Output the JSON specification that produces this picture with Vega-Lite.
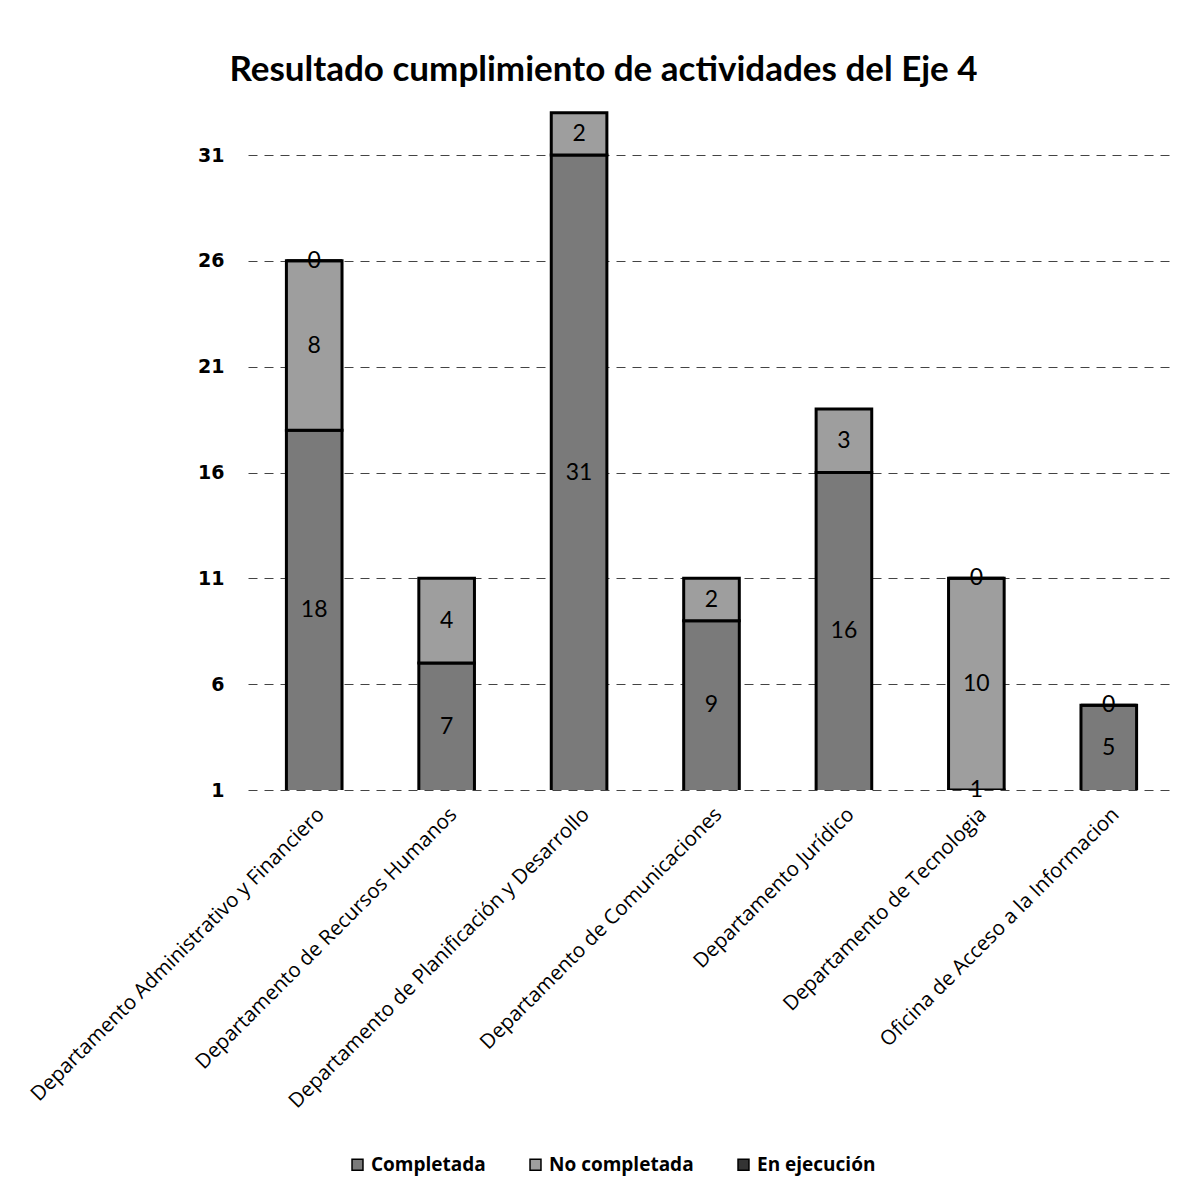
{
  "$schema": "https://vega.github.io/schema/vega-lite/v6.json",
  "autosize": {"type": "none"},
  "width": 927,
  "height": 690,
  "padding": {"left": 248, "top": 100, "right": 19, "bottom": 411},
  "background": "white",
  "title": {
    "text": "Resultado cumplimiento de actividades del Eje 4",
    "font": "Lato",
    "fontSize": 35,
    "fontWeight": "bold",
    "color": "black",
    "anchor": "middle",
    "dx": -108,
    "offset": 12
  },
  "data": {
    "values": [
      {"dept": "Departamento Administrativo y Financiero", "estado": "Completada", "valor": 18},
      {"dept": "Departamento Administrativo y Financiero", "estado": "No completada", "valor": 8},
      {"dept": "Departamento Administrativo y Financiero", "estado": "En ejecución", "valor": 0},
      {"dept": "Departamento de Recursos Humanos", "estado": "Completada", "valor": 7},
      {"dept": "Departamento de Recursos Humanos", "estado": "No completada", "valor": 4},
      {"dept": "Departamento de Planificación y Desarrollo", "estado": "Completada", "valor": 31},
      {"dept": "Departamento de Planificación y Desarrollo", "estado": "No completada", "valor": 2},
      {"dept": "Departamento de Comunicaciones", "estado": "Completada", "valor": 9},
      {"dept": "Departamento de Comunicaciones", "estado": "No completada", "valor": 2},
      {"dept": "Departamento Jurídico", "estado": "Completada", "valor": 16},
      {"dept": "Departamento Jurídico", "estado": "No completada", "valor": 3},
      {"dept": "Departamento de Tecnologia", "estado": "Completada", "valor": 1},
      {"dept": "Departamento de Tecnologia", "estado": "No completada", "valor": 10},
      {"dept": "Departamento de Tecnologia", "estado": "En ejecución", "valor": 0},
      {"dept": "Oficina de Acceso a la Informacion", "estado": "Completada", "valor": 5},
      {"dept": "Oficina de Acceso a la Informacion", "estado": "No completada", "valor": 0}
    ]
  },
  "transform": [
    {"calculate": "indexof(['Completada','No completada','En ejecución'], datum.estado)", "as": "ord"},
    {"stack": "valor", "groupby": ["dept"], "sort": [{"field": "ord", "order": "ascending"}], "as": ["y0", "y1"]},
    {"calculate": "(max(datum.y0, 1) + datum.y1) / 2", "as": "mid"}
  ],
  "encoding": {
    "x": {
      "field": "dept",
      "type": "nominal",
      "sort": null,
      "scale": {"paddingInner": 0.58, "paddingOuter": 0.29},
      "axis": {
        "title": null,
        "labelAngle": -45,
        "labelFont": "Open Sans",
        "labelFontSize": 20.5,
        "labelColor": "black",
        "labelPadding": 14,
        "ticks": false,
        "domain": false,
        "labelLimit": 600
      }
    }
  },
  "layer": [
    {
      "mark": {"type": "bar", "clip": true, "stroke": "black", "strokeWidth": 3},
      "encoding": {
        "y": {
          "field": "y0",
          "type": "quantitative",
          "scale": {"domain": [1, 33.6], "nice": false, "zero": false},
          "axis": {
            "title": null,
            "values": [1, 6, 11, 16, 21, 26, 31],
            "grid": true,
            "gridColor": "#444",
            "gridDash": [9, 7],
            "gridWidth": 1,
            "domain": false,
            "ticks": false,
            "labelFont": "DejaVu Sans",
            "labelFontWeight": "bold",
            "labelFontSize": 19,
            "labelColor": "black",
            "labelPadding": 24
          }
        },
        "y2": {"field": "y1"},
        "color": {
          "field": "estado",
          "type": "nominal",
          "scale": {
            "domain": ["Completada", "No completada", "En ejecución"],
            "range": ["#7a7a7a", "#9e9e9e", "#333333"]
          },
          "legend": {
            "title": null,
            "orient": "none",
            "direction": "horizontal",
            "legendX": 100,
            "legendY": 1055,
            "symbolType": "square",
            "symbolSize": 120,
            "symbolStrokeColor": "black",
            "symbolStrokeWidth": 1.5,
            "labelFont": "Open Sans",
            "labelFontWeight": "bold",
            "labelFontSize": 19,
            "labelColor": "black",
            "columnPadding": 40,
            "labelOffset": 4
          }
        }
      }
    },
    {
      "mark": {"type": "text", "font": "Lato", "fontSize": 23, "color": "black", "baseline": "middle"},
      "encoding": {
        "y": {"field": "mid", "type": "quantitative"},
        "text": {"field": "valor", "type": "quantitative"}
      }
    }
  ],
  "config": {"view": {"stroke": null}}
}
